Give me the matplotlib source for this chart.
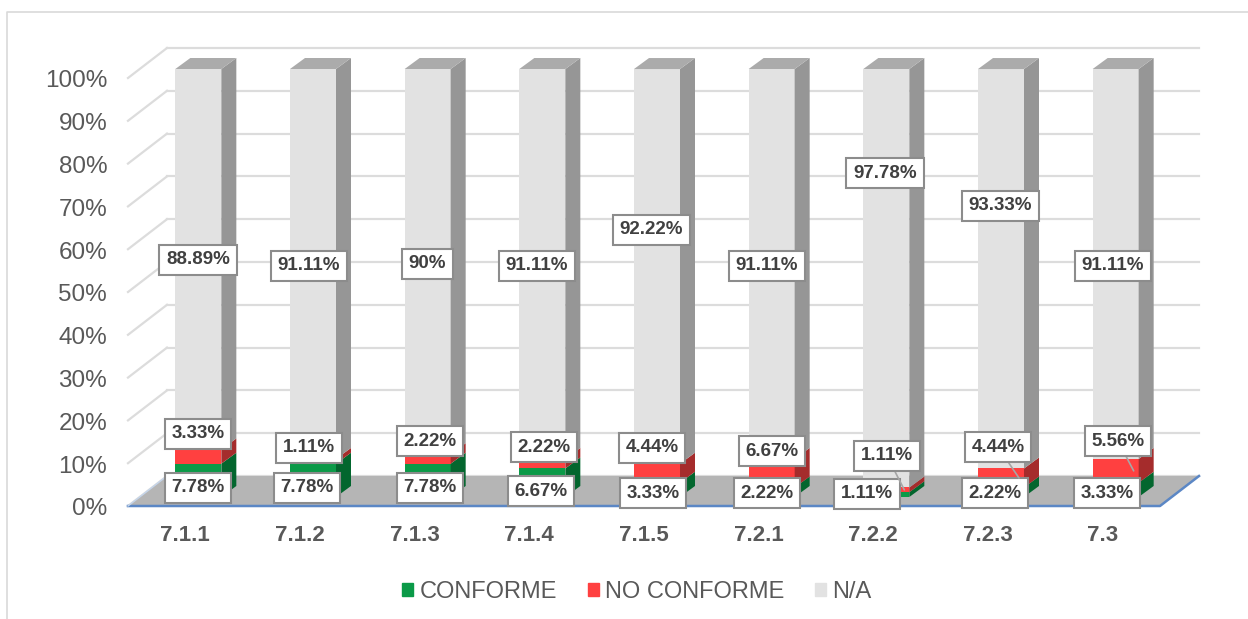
import matplotlib
matplotlib.use("Agg")
import matplotlib.pyplot as plt
from matplotlib.lines import Line2D
from matplotlib.patches import Patch
from matplotlib.transforms import ScaledTranslation

plt.rcParams['font.family'] = ['Liberation Sans', 'DejaVu Sans']

# Data
categories = ['7.1.1', '7.1.2', '7.1.3', '7.1.4', '7.1.5', '7.2.1', '7.2.2', '7.2.3', '7.3']
conforme = [7.78, 7.78, 7.78, 6.67, 3.33, 2.22, 1.11, 2.22, 3.33]
no_conforme = [3.33, 1.11, 2.22, 2.22, 4.44, 6.67, 1.11, 4.44, 5.56]
na = [88.89, 91.11, 90, 91.11, 92.22, 91.11, 97.78, 93.33, 91.11]

series_names = ['CONFORME', 'NO CONFORME', 'N/A']
front_colors = ['#0b9a48', '#ff4040', '#e2e2e2']
side_colors = ['#03662e', '#a52c2c', '#969696']
top_colors = ['#0b7a3a', '#c83434', '#ababab']

# Data label centres in figure pixels (top-left origin), hand placed like the original
conforme_pos = [(198, 488), (307, 488), (430, 488), (541, 491), (653, 493), (767, 493), (867, 494), (995, 493), (1107, 493)]
no_conforme_pos = [(198, 434), (309, 448), (430, 441), (544, 447), (652, 448), (772, 451), (887, 456), (998, 447), (1118, 441)]
na_pos = [(198, 260), (309, 266), (427, 264), (537, 266), (651, 230), (767, 266), (885, 173), (1000, 206), (1113, 266)]
leader_cats = [6, 7, 8]

W, H = 1248, 619
fig = plt.figure(figsize=(W / 100, H / 100), dpi=100)
# front plane of the fake 3D box
left, right, bottom, top = 128, 1160, 506, 78
ax = fig.add_axes([left / W, 1 - bottom / H, (right - left) / W, (bottom - top) / H])
ax.set_xlim(-0.5, 8.5)
ax.set_ylim(0, 100)
for s in ax.spines.values():
    s.set_visible(False)

px_x = (right - left) / 9
px_y = (bottom - top) / 100


# shift in data units for a pixel offset into the depth
def sx(p):
    return p / px_x


def sy(p):
    return p / px_y


box_dx, box_dy = sx(39), sy(30)
grid_color = '#dcdcdc'

# walls
for v in range(0, 101, 10):
    ax.plot([-0.5, -0.5 + box_dx], [v, v + box_dy], color=grid_color, lw=1.6, clip_on=False, zorder=1)
    ax.plot([-0.5 + box_dx, 8.5 + box_dx], [v + box_dy, v + box_dy], color=grid_color, lw=1.6, clip_on=False, zorder=1)

# floor
ax.fill([-0.5, 8.5, 8.5 + box_dx, -0.5 + box_dx], [0, 0, box_dy, box_dy], color='#b5b5b5', lw=0, clip_on=False, zorder=2)
ax.plot([-0.5, 8.5, 8.5 + box_dx], [0, 0, box_dy], color='#5b87c5', lw=1.8, clip_on=False, zorder=3)
ax.plot([-0.5, -0.5 + box_dx], [0, box_dy], color='#c5d5ea', lw=1, clip_on=False, zorder=3)

# bars
bar_w = 46 / px_x
front_dx, front_dy = sx(13), sy(9)
depth_x, depth_y = sx(15), sy(11)
series = [conforme, no_conforme, na]
bases = [[0] * 9, conforme, [a + b for a, b in zip(conforme, no_conforme)]]

for i in range(9):
    xc = i + front_dx
    x1 = xc + bar_w / 2
    for k in range(3):
        b = bases[k][i] + front_dy
        h = series[k][i]
        ax.bar(xc, h, bar_w, bottom=b, color=front_colors[k], lw=0, zorder=4, clip_on=False)
        ax.fill([x1, x1 + depth_x, x1 + depth_x, x1],
                [b, b + depth_y, b + h + depth_y, b + h],
                color=side_colors[k], lw=0, zorder=4, clip_on=False)
    y_top = bases[2][i] + na[i] + front_dy
    ax.fill([x1 - bar_w, x1, x1 + depth_x, x1 - bar_w + depth_x],
            [y_top, y_top, y_top + depth_y, y_top + depth_y],
            color=top_colors[2], lw=0, zorder=4, clip_on=False)

# data labels
box = dict(boxstyle='square,pad=0.36', fc='white', ec='#8c8c8c', lw=1.5)
for k, pos in enumerate([conforme_pos, no_conforme_pos, na_pos]):
    for i, (px, py) in enumerate(pos):
        mid = bases[k][i] + series[k][i] / 2 + front_dy
        kw = {}
        xy = (i + front_dx, mid)
        if k == 1 and i in leader_cats:
            xy = (i + front_dx + bar_w / 2 - sx(5), mid)
            kw['arrowprops'] = dict(arrowstyle='-', color='#a6a6a6', lw=1.2, shrinkA=0, shrinkB=0)
        ax.annotate(f'{series[k][i]:g}%', xy=xy, xytext=(px, H - py), textcoords='figure pixels',
                    ha='center', va='center', fontsize=13.5, fontweight='bold', color='#404040',
                    bbox=box, zorder=10, annotation_clip=False, **kw)

# axes text
ax.set_xticks(range(9))
ax.set_xticklabels(categories, fontsize=16, fontweight='bold', color='#595959')
ax.set_yticks(range(0, 101, 10))
ax.set_yticklabels([f'{v}%' for v in range(0, 101, 10)], fontsize=17.5, color='#595959')
ax.tick_params(axis='x', length=0, pad=13.5)
ax.tick_params(axis='y', length=0, pad=15)
for lab in ax.get_yticklabels():
    lab.set_transform(lab.get_transform() + ScaledTranslation(0, -0.6 / 72, fig.dpi_scale_trans))

handles = [Patch(color=c, label=n) for c, n in zip(front_colors, series_names)]
fig.legend(handles=handles, loc='center', bbox_to_anchor=(637 / W, 1 - 592 / H), ncol=3, frameon=False,
           fontsize=17, labelcolor='#595959', handlelength=0.46, handleheight=0.46,
           handletextpad=0.27, columnspacing=1.3, borderpad=0, borderaxespad=0)

# chart border
fig.add_artist(Line2D([7 / W, 7 / W, 1], [0, 1 - 12 / H, 1 - 12 / H], color='#d9d9d9', lw=1.2))

fig.savefig('out.png', dpi=100)
